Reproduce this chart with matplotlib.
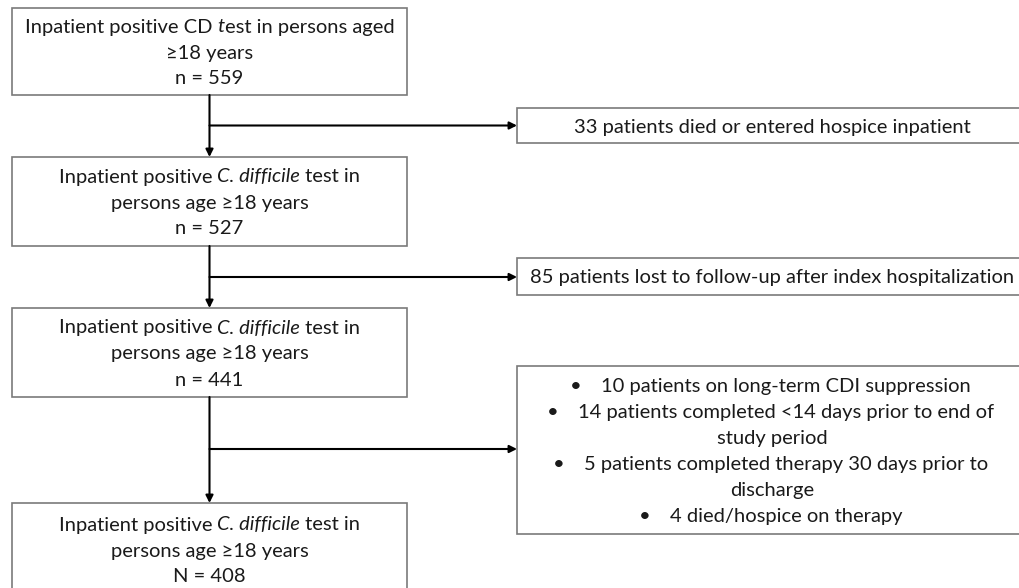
import matplotlib
matplotlib.use('Agg')
import matplotlib.pyplot as plt
from matplotlib.patches import Rectangle

plt.rcParams['font.family'] = ['Lato', 'DejaVu Sans']

# ---- content ----
main_box_lines = [
    [[("Inpatient positive CD ", 'normal'), ("t", 'italic'), ("est in persons aged", 'normal')],
     [("\u226518 years", 'normal')],
     [("n = 559", 'normal')]],
    [[("Inpatient positive ", 'normal'), ("C. difficile", 'italic'), (" test in", 'normal')],
     [("persons age \u226518 years", 'normal')],
     [("n = 527", 'normal')]],
    [[("Inpatient positive ", 'normal'), ("C. difficile", 'italic'), (" test in", 'normal')],
     [("persons age \u226518 years", 'normal')],
     [("n = 441", 'normal')]],
    [[("Inpatient positive ", 'normal'), ("C. difficile", 'italic'), (" test in", 'normal')],
     [("persons age \u226518 years", 'normal')],
     [("N = 408", 'normal')]],
]
excl_box_lines = [
    [("33 patients died or entered hospice inpatient", False)],
    [("85 patients lost to follow-up after index hospitalization", False)],
    [("10 patients on long-term CDI suppression", True),
     ("14 patients completed <14 days prior to end of", True),
     ("study period", False),
     ("5 patients completed therapy 30 days prior to", True),
     ("discharge", False),
     ("4 died/hospice on therapy", True)],
]

# ---- layout (pixels) ----
W, H = 1019, 588
FS = 14.5
TXT = '#1a1a1a'
EDGE = '#7a7a7a'
LINE_SP = 26

main_x0, main_x1 = 12, 407
main_tops = [8, 157, 308, 503]
main_bots = [95, 246, 397, 597]
main_cy = [51.5, 201.5, 352.5, 549.5]

ex_x0, ex_x1 = 517, 1030
ex_tops = [108, 258, 366]
ex_bots = [143, 295, 534]
ex_cx = 772
branch_y = [125.5, 277, 449]

fig = plt.figure(figsize=(W / 100, H / 100), dpi=100)
ax = fig.add_axes([0, 0, 1, 1])
ax.set_xlim(0, W)
ax.set_ylim(H, 0)
ax.axis('off')

fig.canvas.draw()
rend = fig.canvas.get_renderer()


def text_width(s, style='normal'):
    t = ax.text(0, 0, "|" + s + "|", fontsize=FS, style=style)
    w1 = t.get_window_extent(rend).width
    t.set_text("||")
    w2 = t.get_window_extent(rend).width
    t.remove()
    return w1 - w2


BASE_OFF = 7


def draw_segments(segs, cx, cy):
    widths = [text_width(s, st) for s, st in segs]
    x = cx - sum(widths) / 2
    for (s, st), w in zip(segs, widths):
        ax.text(x, cy + BASE_OFF, s, fontsize=FS, style=st, color=TXT,
                ha='left', va='baseline')
        x += w


main_cx = (main_x0 + main_x1) / 2
for top, bot, cy, lines in zip(main_tops, main_bots, main_cy, main_box_lines):
    ax.add_patch(Rectangle((main_x0, top), main_x1 - main_x0, bot - top,
                           fill=True, facecolor='white', edgecolor=EDGE, lw=1.2, zorder=2))
    n = len(lines)
    for i, segs in enumerate(lines):
        y = cy + (i - (n - 1) / 2) * LINE_SP
        draw_segments(segs, main_cx, y)

for top, bot, lines in zip(ex_tops, ex_bots, excl_box_lines):
    ax.add_patch(Rectangle((ex_x0, top), ex_x1 - ex_x0, bot - top,
                           fill=True, facecolor='white', edgecolor=EDGE, lw=1.2,
                           zorder=2, clip_on=False))
    cy = (top + bot) / 2
    n = len(lines)
    for i, (s, bullet) in enumerate(lines):
        y = cy + (i - (n - 1) / 2) * LINE_SP
        if bullet:
            w = text_width(s)
            tstart = ex_cx - (w - 28) / 2
            ax.text(tstart, y + BASE_OFF, s, fontsize=FS, color=TXT, ha='left', va='baseline')
            ax.text(tstart - 25, y + BASE_OFF, "\u2022", fontsize=FS, color=TXT,
                    ha='center', va='baseline')
        else:
            ax.text(ex_cx, y + BASE_OFF, s, fontsize=FS, color=TXT, ha='center', va='baseline')

arrow_kw = dict(arrowstyle='-|>', mutation_scale=11, lw=1.5, color='black',
                shrinkA=0, shrinkB=0)
vx = 209.5
for i in range(3):
    ax.annotate('', xy=(vx, main_tops[i + 1]), xytext=(vx, main_bots[i]),
                arrowprops=arrow_kw, zorder=3)
    ax.annotate('', xy=(ex_x0, branch_y[i]), xytext=(vx, branch_y[i]),
                arrowprops=arrow_kw, zorder=3)

fig.savefig('out.png', dpi=100, facecolor='white')
